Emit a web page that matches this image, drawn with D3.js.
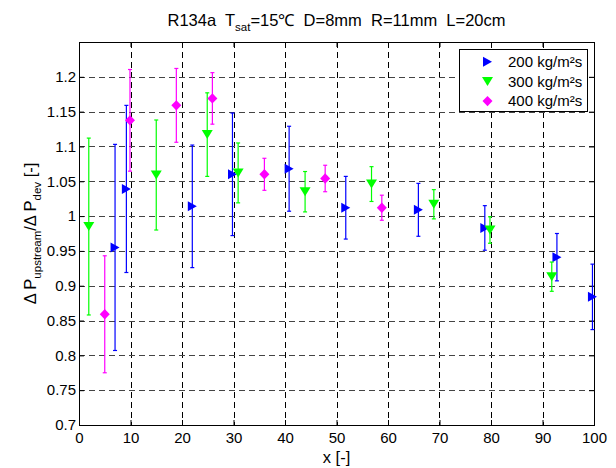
<!DOCTYPE html>
<html>
<head>
<meta charset="utf-8">
<script src="https://cdn.jsdelivr.net/npm/d3@7"></script>
<style>
  body { margin: 0; background: #fff; }
  text { font-family: "Liberation Sans", Arial, sans-serif; fill: #000; white-space: pre; }
</style>
</head>
<body>
<svg id="chart" width="616" height="468"></svg>
<script>
// 200 kg/m2s
const blueX = [7.0, 9.2, 22.0, 29.8, 40.8, 51.8, 65.9, 78.8, 92.8, 99.7];
const blueY = [0.955, 1.039, 1.014, 1.060, 1.068, 1.012, 1.009, 0.983, 0.941, 0.884];
const blueErr = [0.148, 0.120, 0.088, 0.088, 0.061, 0.045, 0.038, 0.032, 0.034, 0.047];
// 300 kg/m2s
const greenX = [1.9, 15.0, 24.9, 30.9, 43.9, 56.8, 68.9, 79.8, 91.8];
const greenY = [0.985, 1.059, 1.117, 1.062, 1.035, 1.046, 1.017, 0.980, 0.913];
const greenErr = [0.127, 0.079, 0.060, 0.043, 0.029, 0.025, 0.021, 0.019, 0.021];
// 400 kg/m2s
const magX = [5.0, 9.9, 18.9, 25.9, 36.0, 47.8, 58.8];
const magY = [0.859, 1.1375, 1.159, 1.169, 1.060, 1.054, 1.012];
const magErr = [0.084, 0.073, 0.053, 0.037, 0.023, 0.019, 0.018];

const xTicks = d3.range(0, 101, 10);
const yTicks = [0.7, 0.75, 0.8, 0.85, 0.9, 0.95, 1, 1.05, 1.1, 1.15, 1.2];
const seriesNames = ["200 kg/m²s", "300 kg/m²s", "400 kg/m²s"];

const markers = {
    right: "M-4.5,-5L4.5,0L-4.5,5Z",
    down: "M-5.5,-4.5L5.5,-4.5L0,4.5Z",
    diamond: "M0,-5.2L5,0L0,5.2L-5,0Z"
};

const series = [
    {name: seriesNames[0], x: blueX, y: blueY, e: blueErr, color: "#0000ff", marker: markers.right},
    {name: seriesNames[1], x: greenX, y: greenY, e: greenErr, color: "#00ff00", marker: markers.down},
    {name: seriesNames[2], x: magX, y: magY, e: magErr, color: "#ff00ff", marker: markers.diamond}
];

const box = {left: 79, right: 594, top: 42, bottom: 425};
const fontSize = 15, labelSize = 16.5, subSize = 11.5;
const svg = d3.select("#chart");

const x = d3.scaleLinear().domain([0, 100]).range([box.left, box.right]);
const y = d3.scaleLinear().domain([0.7, 1.25]).range([box.bottom, box.top]);

// grid
const grid = svg.append("g").attr("class", "grid");
grid.selectAll(".vg").data(xTicks.slice(1, -1)).enter().append("line")
    .attr("x1", d => Math.round(x(d)) + 0.5).attr("x2", d => Math.round(x(d)) + 0.5)
    .attr("y1", box.top).attr("y2", box.bottom)
    .attr("stroke", "#000").attr("stroke-dasharray", "6,4");
grid.selectAll(".hg").data(yTicks.slice(1)).enter().append("line")
    .attr("y1", d => Math.round(y(d)) + 0.5).attr("y2", d => Math.round(y(d)) + 0.5)
    .attr("x1", box.left).attr("x2", box.right)
    .attr("stroke", "#444").attr("stroke-dasharray", "6,4");

// axes
const xAxis = svg.append("g")
    .attr("transform", `translate(0,${box.bottom})`)
    .call(d3.axisBottom(x).tickValues(xTicks).tickSize(-5).tickPadding(7).tickFormat(d3.format("d")));
const xAxisTop = svg.append("g")
    .attr("transform", `translate(0,${box.top})`)
    .call(d3.axisTop(x).tickValues(xTicks).tickSize(-5).tickFormat(""));
const yAxis = svg.append("g")
    .attr("transform", `translate(${box.left},0)`)
    .call(d3.axisLeft(y).tickValues(yTicks).tickSize(-5).tickPadding(3).tickFormat(d => String(+d.toFixed(2))));
const yAxisRight = svg.append("g")
    .attr("transform", `translate(${box.right},0)`)
    .call(d3.axisRight(y).tickValues(yTicks).tickSize(-5).tickFormat(""));

[xAxis, xAxisTop, yAxis, yAxisRight].forEach(a => {
    a.select(".domain").remove();
    a.selectAll("line").attr("stroke", "#000");
    a.selectAll("text").style("font-size", fontSize + "px").style("font-family", "Liberation Sans, Arial, sans-serif");
});

// frame
svg.append("rect")
    .attr("x", box.left + 0.5).attr("y", box.top + 0.5)
    .attr("width", box.right - box.left).attr("height", box.bottom - box.top)
    .attr("fill", "none").attr("stroke", "#000");

// error bars + markers
series.forEach(s => {
    const g = svg.append("g");
    const pts = s.x.map((v, i) => ({x: v, y: s.y[i], e: s.e[i]}));
    g.selectAll(".bar").data(pts).enter().append("line")
        .attr("x1", d => x(d.x)).attr("x2", d => x(d.x))
        .attr("y1", d => y(d.y + d.e)).attr("y2", d => y(d.y - d.e))
        .attr("stroke", s.color).attr("stroke-width", 1.2);
    [1, -1].forEach(sign => {
        g.selectAll(".cap").data(pts).enter().append("line")
            .attr("x1", d => x(d.x) - 2).attr("x2", d => x(d.x) + 2)
            .attr("y1", d => y(d.y + sign * d.e)).attr("y2", d => y(d.y + sign * d.e))
            .attr("stroke", s.color).attr("stroke-width", 1.2);
    });
    g.selectAll(".mk").data(pts).enter().append("path")
        .attr("d", s.marker)
        .attr("transform", d => `translate(${x(d.x)},${y(d.y)})`)
        .attr("fill", s.color);
});

// legend
const leg = svg.append("g");
leg.append("rect")
    .attr("x", 459.5).attr("y", 49.5).attr("width", 128).attr("height", 62)
    .attr("fill", "#fff").attr("stroke", "#000");
series.forEach((s, i) => {
    const ly = 61.7 + i * 19.7;
    leg.append("path").attr("d", s.marker)
        .attr("transform", `translate(487.5,${ly})`).attr("fill", s.color);
    leg.append("text").attr("x", 508).attr("y", ly + 5.3)
        .style("font-size", fontSize + "px").text(s.name);
});

// title
const title = svg.append("text")
    .attr("x", (box.left + box.right) / 2).attr("y", 26).attr("text-anchor", "middle")
    .style("font-size", labelSize + "px");
title.append("tspan").text("R134a  T");
title.append("tspan").attr("dy", 5).style("font-size", subSize + "px").text("sat");
title.append("tspan").attr("dy", -5).text("=15℃  D=8mm  R=11mm  L=20cm");

// axis labels
svg.append("text")
    .attr("x", (box.left + box.right) / 2).attr("y", 463)
    .attr("text-anchor", "middle").style("font-size", labelSize + "px").text("x [-]");

const yl = svg.append("text")
    .attr("transform", `translate(36,${(box.top + box.bottom) / 2}) rotate(-90)`)
    .attr("text-anchor", "middle").style("font-size", labelSize + "px");
yl.append("tspan").text("Δ P");
yl.append("tspan").attr("dy", 5).style("font-size", subSize + "px").text("upstream");
yl.append("tspan").attr("dy", -5).text("/Δ P");
yl.append("tspan").attr("dy", 5).style("font-size", subSize + "px").text("dev");
yl.append("tspan").attr("dy", -5).text(" [-]");
</script>
</body>
</html>
